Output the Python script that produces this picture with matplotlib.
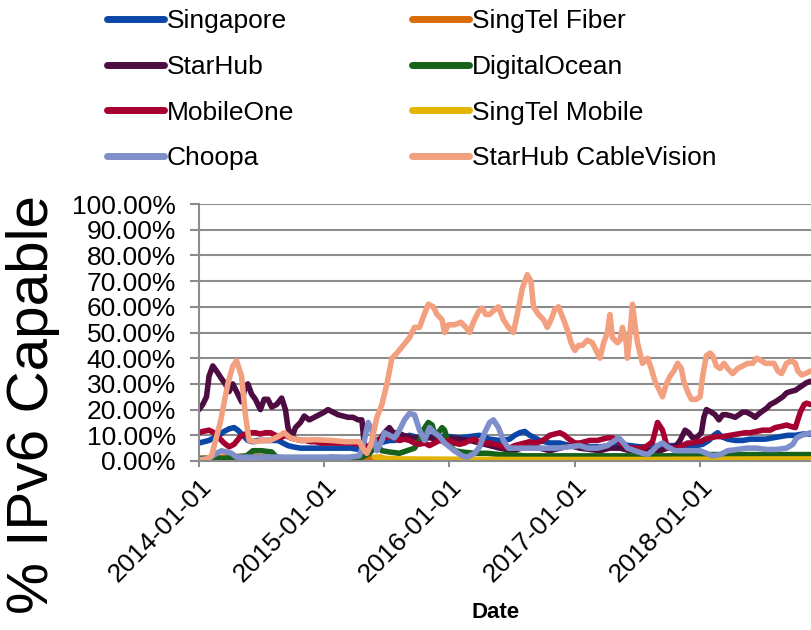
import numpy as np
import matplotlib
matplotlib.use("Agg")
import matplotlib.pyplot as plt
import matplotlib.dates as mdates
from matplotlib.ticker import PercentFormatter, MultipleLocator

plt.rcParams['font.family'] = ['Liberation Sans', 'DejaVu Sans']

# time in decimal years, value in % of IPv6 capable users
singapore_t = [2014.00, 2014.04, 2014.08, 2014.12, 2014.16, 2014.20, 2014.24, 2014.28, 2014.31, 2014.35,
               2014.39, 2014.43, 2014.47, 2014.51, 2014.55, 2014.59, 2014.63, 2014.67, 2014.71, 2014.75,
               2014.81, 2014.89, 2014.97, 2015.05, 2015.13, 2015.21, 2015.28, 2015.32, 2015.36, 2015.40,
               2015.44, 2015.48, 2015.52, 2015.56, 2015.60, 2015.64, 2015.68, 2015.72, 2015.76, 2015.80,
               2015.84, 2015.92, 2016.00, 2016.08, 2016.16, 2016.24, 2016.32, 2016.40, 2016.48, 2016.52,
               2016.56, 2016.60, 2016.64, 2016.68, 2016.72, 2016.76, 2016.80, 2016.88, 2016.96, 2017.04,
               2017.12, 2017.20, 2017.28, 2017.36, 2017.44, 2017.52, 2017.60, 2017.68, 2017.76, 2017.84,
               2017.92, 2017.97, 2018.02, 2018.07, 2018.11, 2018.14, 2018.17, 2018.22, 2018.28, 2018.34,
               2018.40, 2018.46, 2018.52, 2018.58, 2018.64, 2018.70, 2018.76, 2018.82, 2018.88]
singapore_v = [7, 7.5, 8, 9, 10, 11.5, 12.5, 13, 12, 10,
               8, 7.5, 8, 8, 8, 8, 8, 7, 6, 5.5,
               5, 5, 5, 5, 5, 5, 4.5, 4, 5, 6,
               7, 7.5, 8, 8, 8.5, 9, 10, 9.5, 9, 9.5,
               9.5, 9.5, 9.5, 9, 9.5, 10, 8.5, 8, 8.5, 10,
               11, 11.5, 10, 9, 8, 7.5, 7, 7, 6, 5.5,
               5.5, 5.5, 6, 6.5, 6, 5.5, 5.5, 6, 6, 6,
               6, 6, 6.5, 8, 10, 11, 9.5, 8.5, 8, 8,
               8.5, 8.5, 8.5, 9, 9.5, 10, 10, 10.5, 10.5]

singtel_fiber_t = [2014.00, 2014.20, 2014.40, 2014.55, 2014.70, 2015.00, 2015.30, 2015.45, 2015.50,
                   2016.00, 2017.00, 2018.00, 2018.88]
singtel_fiber_v = [1, 1.5, 2, 1.5, 1, 1, 1, 1.5, 0.5,
                   0.3, 0.3, 0.3, 0.3]

starhub_t = [2014.00, 2014.03, 2014.06, 2014.08, 2014.11, 2014.14, 2014.18, 2014.21, 2014.24, 2014.27,
             2014.30, 2014.34, 2014.37, 2014.39, 2014.42, 2014.45, 2014.49, 2014.52, 2014.55, 2014.58,
             2014.62, 2014.66, 2014.69, 2014.71, 2014.74, 2014.77, 2014.81, 2014.84, 2014.88, 2014.92,
             2014.96, 2015.00, 2015.03, 2015.07, 2015.11, 2015.15, 2015.19, 2015.23, 2015.27, 2015.30,
             2015.32, 2015.36, 2015.40, 2015.44, 2015.48, 2015.52, 2015.55, 2015.59, 2015.63, 2015.67,
             2015.71, 2015.75, 2015.79, 2015.84, 2015.92, 2016.00, 2016.08, 2016.16, 2016.24, 2016.32,
             2016.40, 2016.51, 2016.60, 2016.72, 2016.80, 2016.88, 2016.96, 2017.04, 2017.12, 2017.20,
             2017.28, 2017.36, 2017.44, 2017.52, 2017.60, 2017.68, 2017.74, 2017.81, 2017.84, 2017.88,
             2017.91, 2017.94, 2017.97, 2018.01, 2018.03, 2018.05, 2018.09, 2018.12, 2018.15, 2018.18,
             2018.21, 2018.25, 2018.28, 2018.31, 2018.34, 2018.37, 2018.41, 2018.44, 2018.46, 2018.50,
             2018.53, 2018.56, 2018.60, 2018.63, 2018.66, 2018.69, 2018.72, 2018.76, 2018.79, 2018.82,
             2018.85, 2018.88]
starhub_v = [20, 22, 25, 33, 37, 35, 32, 30, 27, 30,
             27, 23, 29, 30, 26, 24, 20, 24, 24, 21,
             22, 24.5, 20, 13, 9, 13, 15, 17.5, 16, 17,
             18, 19, 20, 19, 18, 17.5, 17, 17, 16, 16,
             6, 5, 5.5, 8, 11, 13, 11, 11, 10, 9.5,
             9, 9, 9, 9, 8.5, 9, 8.5, 8, 7, 6,
             5, 4, 5.5, 5, 4, 5, 6, 5, 4.5, 4,
             5, 5, 4, 5, 4, 4, 5, 6, 8, 12,
             11, 9, 9, 11, 17, 20, 19, 18, 16, 18,
             18, 17.5, 17, 18, 19, 19, 18, 17, 18, 19.5,
             20.5, 22, 23, 24, 25, 26.5, 27, 27.5, 28.5, 29.5,
             30.5, 31]

digitalocean_t = [2014.00, 2014.20, 2014.38, 2014.43, 2014.50, 2014.58, 2014.62, 2014.75, 2015.00, 2015.05,
                  2015.20, 2015.30, 2015.36, 2015.42, 2015.46, 2015.52, 2015.60, 2015.66, 2015.72, 2015.76,
                  2015.79, 2015.83, 2015.86, 2015.88, 2015.91, 2015.94, 2015.96, 2015.99, 2016.04, 2016.10,
                  2016.20, 2016.30, 2016.40, 2016.50, 2016.60, 2016.70, 2016.80, 2016.90, 2017.00, 2017.25,
                  2017.50, 2017.75, 2018.00, 2018.30, 2018.60, 2018.88]
digitalocean_v = [1, 1, 2, 4, 4, 3.5, 1.5, 1, 1, 1.5,
                  1, 1.5, 3, 6, 4, 3.5, 3, 4, 5, 8,
                  12, 15, 14, 11, 11, 13, 12, 7, 4, 3.5,
                  3, 3, 2.5, 2.5, 2, 2, 2, 2, 2, 2,
                  2, 2, 2.5, 2.5, 2.5, 2.5]

mobileone_t = [2014.00, 2014.03, 2014.08, 2014.12, 2014.16, 2014.20, 2014.24, 2014.28, 2014.33, 2014.37,
               2014.41, 2014.45, 2014.49, 2014.53, 2014.57, 2014.61, 2014.65, 2014.69, 2014.73, 2014.77,
               2014.81, 2014.85, 2014.89, 2014.93, 2014.97, 2015.05, 2015.13, 2015.21, 2015.28, 2015.32,
               2015.36, 2015.40, 2015.44, 2015.48, 2015.52, 2015.56, 2015.60, 2015.64, 2015.68, 2015.72,
               2015.76, 2015.80, 2015.84, 2015.88, 2015.92, 2015.96, 2016.00, 2016.04, 2016.08, 2016.12,
               2016.16, 2016.20, 2016.24, 2016.28, 2016.32, 2016.36, 2016.40, 2016.44, 2016.48, 2016.52,
               2016.56, 2016.60, 2016.64, 2016.68, 2016.72, 2016.76, 2016.80, 2016.84, 2016.88, 2016.92,
               2016.94, 2016.97, 2017.00, 2017.04, 2017.08, 2017.12, 2017.18, 2017.22, 2017.26, 2017.30,
               2017.34, 2017.38, 2017.42, 2017.46, 2017.50, 2017.54, 2017.58, 2017.62, 2017.66, 2017.70,
               2017.74, 2017.77, 2017.82, 2017.86, 2017.90, 2017.94, 2017.97, 2018.00, 2018.04, 2018.08,
               2018.13, 2018.18, 2018.24, 2018.30, 2018.36, 2018.40, 2018.45, 2018.50, 2018.56, 2018.60,
               2018.65, 2018.69, 2018.72, 2018.76, 2018.78, 2018.80, 2018.83, 2018.85, 2018.88]
mobileone_v = [11, 11.5, 12, 11, 9, 7, 5.5, 6.5, 9.5, 10.5,
               11, 11, 10.5, 11, 11, 10, 9, 10, 9, 8.5,
               8, 8, 7.5, 7.5, 7, 7, 7, 7, 6.5, 5,
               6, 8, 8.5, 9, 9.5, 9, 8, 8.5, 8, 7,
               6.5, 7, 6, 7, 8, 7.5, 8, 7, 6.5, 7,
               8, 8.5, 7, 7, 7, 6.5, 6, 5.5, 5, 6,
               6.5, 7, 7.5, 7, 7.5, 8.5, 10, 10.5, 11, 10,
               9, 8, 7, 7, 7.5, 8, 8, 8.5, 9, 9,
               8, 6.5, 5.5, 5, 5, 5, 6, 7.5, 15, 12,
               5, 5, 5, 6, 7, 7, 7.5, 7.5, 8.5, 9,
               9.5, 9.5, 10, 10.5, 11, 11, 11.5, 12, 12, 13,
               13.5, 14, 13.5, 13, 16, 19, 22, 22.5, 22]

singtel_mobile_t = [2015.40, 2015.50, 2015.60, 2016.00, 2016.50, 2017.00, 2017.50, 2018.00, 2018.50, 2018.88]
singtel_mobile_v = [1.5, 1, 0.8, 0.7, 0.6, 0.6, 0.6, 0.7, 0.8, 0.8]

choopa_t = [2014.00, 2014.08, 2014.14, 2014.18, 2014.22, 2014.26, 2014.30, 2014.40, 2014.50, 2014.60,
            2014.70, 2014.80, 2014.90, 2015.00, 2015.10, 2015.20, 2015.28, 2015.32, 2015.35, 2015.38,
            2015.42, 2015.46, 2015.48, 2015.52, 2015.56, 2015.60, 2015.64, 2015.68, 2015.72, 2015.76,
            2015.80, 2015.84, 2015.88, 2015.92, 2015.96, 2016.00, 2016.04, 2016.10, 2016.14, 2016.20,
            2016.24, 2016.28, 2016.32, 2016.35, 2016.39, 2016.43, 2016.47, 2016.55, 2016.65, 2016.75,
            2016.85, 2016.95, 2017.04, 2017.10, 2017.18, 2017.26, 2017.32, 2017.35, 2017.39, 2017.42,
            2017.48, 2017.54, 2017.58, 2017.62, 2017.66, 2017.70, 2017.74, 2017.80, 2017.88, 2017.94,
            2018.00, 2018.05, 2018.10, 2018.16, 2018.22, 2018.30, 2018.37, 2018.45, 2018.53, 2018.61,
            2018.69, 2018.74, 2018.77, 2018.81, 2018.85, 2018.88]
choopa_v = [0.5, 1, 3, 4, 3.5, 3, 1.5, 1.5, 1.5, 1.5,
            1.5, 1.5, 1.5, 1.5, 1.5, 1.5, 2, 8, 15, 12,
            4, 8, 11, 10, 9, 12, 16, 18.5, 18, 12,
            8, 13, 11, 9.5, 7, 5.5, 4, 2, 1.5, 3,
            5.5, 11, 15, 16, 13, 8, 5, 5, 5, 5,
            5, 5.5, 6, 5, 5, 6, 8, 9, 7, 5,
            4, 3, 2.5, 4, 6, 7, 5.5, 4, 4, 4,
            4, 3, 2, 2.5, 4, 4.5, 5, 5, 4.5, 4.5,
            5, 6.5, 9, 10, 10.5, 11]

cablevision_t = [2014.00, 2014.05, 2014.10, 2014.17, 2014.23, 2014.27, 2014.30, 2014.34, 2014.37, 2014.40,
                 2014.45, 2014.50, 2014.57, 2014.63, 2014.68, 2014.73, 2014.81, 2014.93, 2015.05, 2015.17,
                 2015.28, 2015.32, 2015.34, 2015.37, 2015.42, 2015.46, 2015.50, 2015.54, 2015.58, 2015.63,
                 2015.68, 2015.72, 2015.76, 2015.79, 2015.83, 2015.87, 2015.90, 2015.94, 2015.96, 2015.99,
                 2016.04, 2016.09, 2016.13, 2016.16, 2016.19, 2016.23, 2016.26, 2016.29, 2016.32, 2016.35,
                 2016.39, 2016.43, 2016.47, 2016.51, 2016.54, 2016.58, 2016.62, 2016.65, 2016.67, 2016.71,
                 2016.75, 2016.78, 2016.81, 2016.84, 2016.87, 2016.91, 2016.94, 2016.97, 2017.00, 2017.03,
                 2017.06, 2017.10, 2017.14, 2017.18, 2017.20, 2017.23, 2017.26, 2017.28, 2017.30, 2017.34,
                 2017.36, 2017.38, 2017.41, 2017.42, 2017.45, 2017.46, 2017.48, 2017.50, 2017.54, 2017.56,
                 2017.58, 2017.61, 2017.64, 2017.67, 2017.70, 2017.73, 2017.76, 2017.79, 2017.82, 2017.85,
                 2017.87, 2017.90, 2017.93, 2017.97, 2018.00, 2018.02, 2018.05, 2018.08, 2018.10, 2018.13,
                 2018.16, 2018.19, 2018.22, 2018.26, 2018.30, 2018.34, 2018.38, 2018.42, 2018.45, 2018.49,
                 2018.52, 2018.56, 2018.59, 2018.62, 2018.65, 2018.69, 2018.73, 2018.76, 2018.78, 2018.81,
                 2018.84, 2018.88]
cablevision_v = [0.5, 0.5, 2, 15, 30, 37, 39, 33, 18, 8,
                 7.5, 8, 8, 9.5, 11, 9, 8, 8.3, 8, 7.5,
                 7.5, 4, 3, 6, 17, 22, 30, 40, 42, 45,
                 48, 52, 52, 56, 61, 60, 57, 55, 50, 53,
                 53, 54, 52, 50, 54, 58, 59.5, 57, 57, 58.5,
                 60, 55, 52, 50, 57, 67, 72.5, 70, 60, 57,
                 55, 52, 55, 59, 60, 55, 51, 46, 43, 45,
                 45, 47, 46, 42, 40, 46, 50, 57, 48, 46,
                 47, 52, 46, 40, 55, 61, 53, 46, 38, 39,
                 40, 36, 31, 28, 25, 30, 33, 35, 38, 36,
                 31, 27, 24, 24, 25, 33, 41, 42, 41, 37,
                 36, 38, 36, 34, 36, 37, 38, 38, 40, 39,
                 38, 38, 38, 35, 34, 38, 39, 38, 35, 33.5,
                 34, 35]

series = [
    ("Singapore", singapore_t, singapore_v, "#0a47a8"),
    ("SingTel Fiber", singtel_fiber_t, singtel_fiber_v, "#d86c06"),
    ("StarHub", starhub_t, starhub_v, "#4e0d42"),
    ("DigitalOcean", digitalocean_t, digitalocean_v, "#17621a"),
    ("MobileOne", mobileone_t, mobileone_v, "#a5002f"),
    ("SingTel Mobile", singtel_mobile_t, singtel_mobile_v, "#e3b405"),
    ("Choopa", choopa_t, choopa_v, "#7f8fcb"),
    ("StarHub CableVision", cablevision_t, cablevision_v, "#f2a07f"),
]

base = mdates.date2num(np.datetime64('2014-01-01'))


def to_dates(t):
    # decimal year -> matplotlib date number
    return base + (np.array(t) - 2014.0) * 365.25


fig = plt.figure(figsize=(8.11, 6.30), dpi=100)
ax = fig.add_axes([199 / 811, 1 - 461 / 630, 612 / 811, 257 / 630])

lines = []
for name, t, v, color in series:
    ln, = ax.plot(to_dates(t), v, color=color, lw=4.0, label=name,
                  solid_capstyle='round', solid_joinstyle='round')
    lines.append(ln)

ax.set_xlim(base, to_dates([2018.885])[0])
ax.set_ylim(0, 100)
ax.yaxis.set_major_locator(MultipleLocator(10))
ax.yaxis.set_major_formatter(PercentFormatter(xmax=100, decimals=2))
ax.xaxis.set_major_locator(mdates.YearLocator())
ax.xaxis.set_major_formatter(mdates.DateFormatter('%Y-%m-%d'))

ax.grid(axis='y', color='#8c8c8c', lw=1.5)
ax.set_axisbelow(True)
for s in ['top', 'right']:
    ax.spines[s].set_visible(False)
for s in ['left', 'bottom']:
    ax.spines[s].set_color('#8c8c8c')
    ax.spines[s].set_linewidth(1.5)
ax.tick_params(axis='y', length=6.5, width=1.5, color='#8c8c8c', labelsize=19, pad=10)
ax.tick_params(axis='x', length=4.3, width=1.5, color='#8c8c8c', labelsize=19, pad=5)
for lab in ax.get_xticklabels():
    lab.set_rotation(45)
    lab.set_ha('right')
    lab.set_rotation_mode('anchor')

fig.text(33 / 811, 1 - 405 / 630, '% IPv6 Capable', rotation=90, fontsize=42,
         ha='center', va='center')
fig.text(496 / 811, 1 - 612 / 630, 'Date', fontsize=16, fontweight='bold',
         ha='center', va='center')

# legend is filled row by row in the reference
order = [0, 2, 4, 6, 1, 3, 5, 7]
leg = fig.legend([lines[i] for i in order], [series[i][0] for i in order],
                 loc='upper left', bbox_to_anchor=(107 / 811, 0.985), ncol=2,
                 frameon=False, fontsize=19, handlelength=2.16, handletextpad=0.11,
                 columnspacing=4.45, labelspacing=0.82, borderpad=0, borderaxespad=0)
for h in leg.legend_handles:
    h.set_linewidth(5)

fig.savefig('out.png', dpi=100)
